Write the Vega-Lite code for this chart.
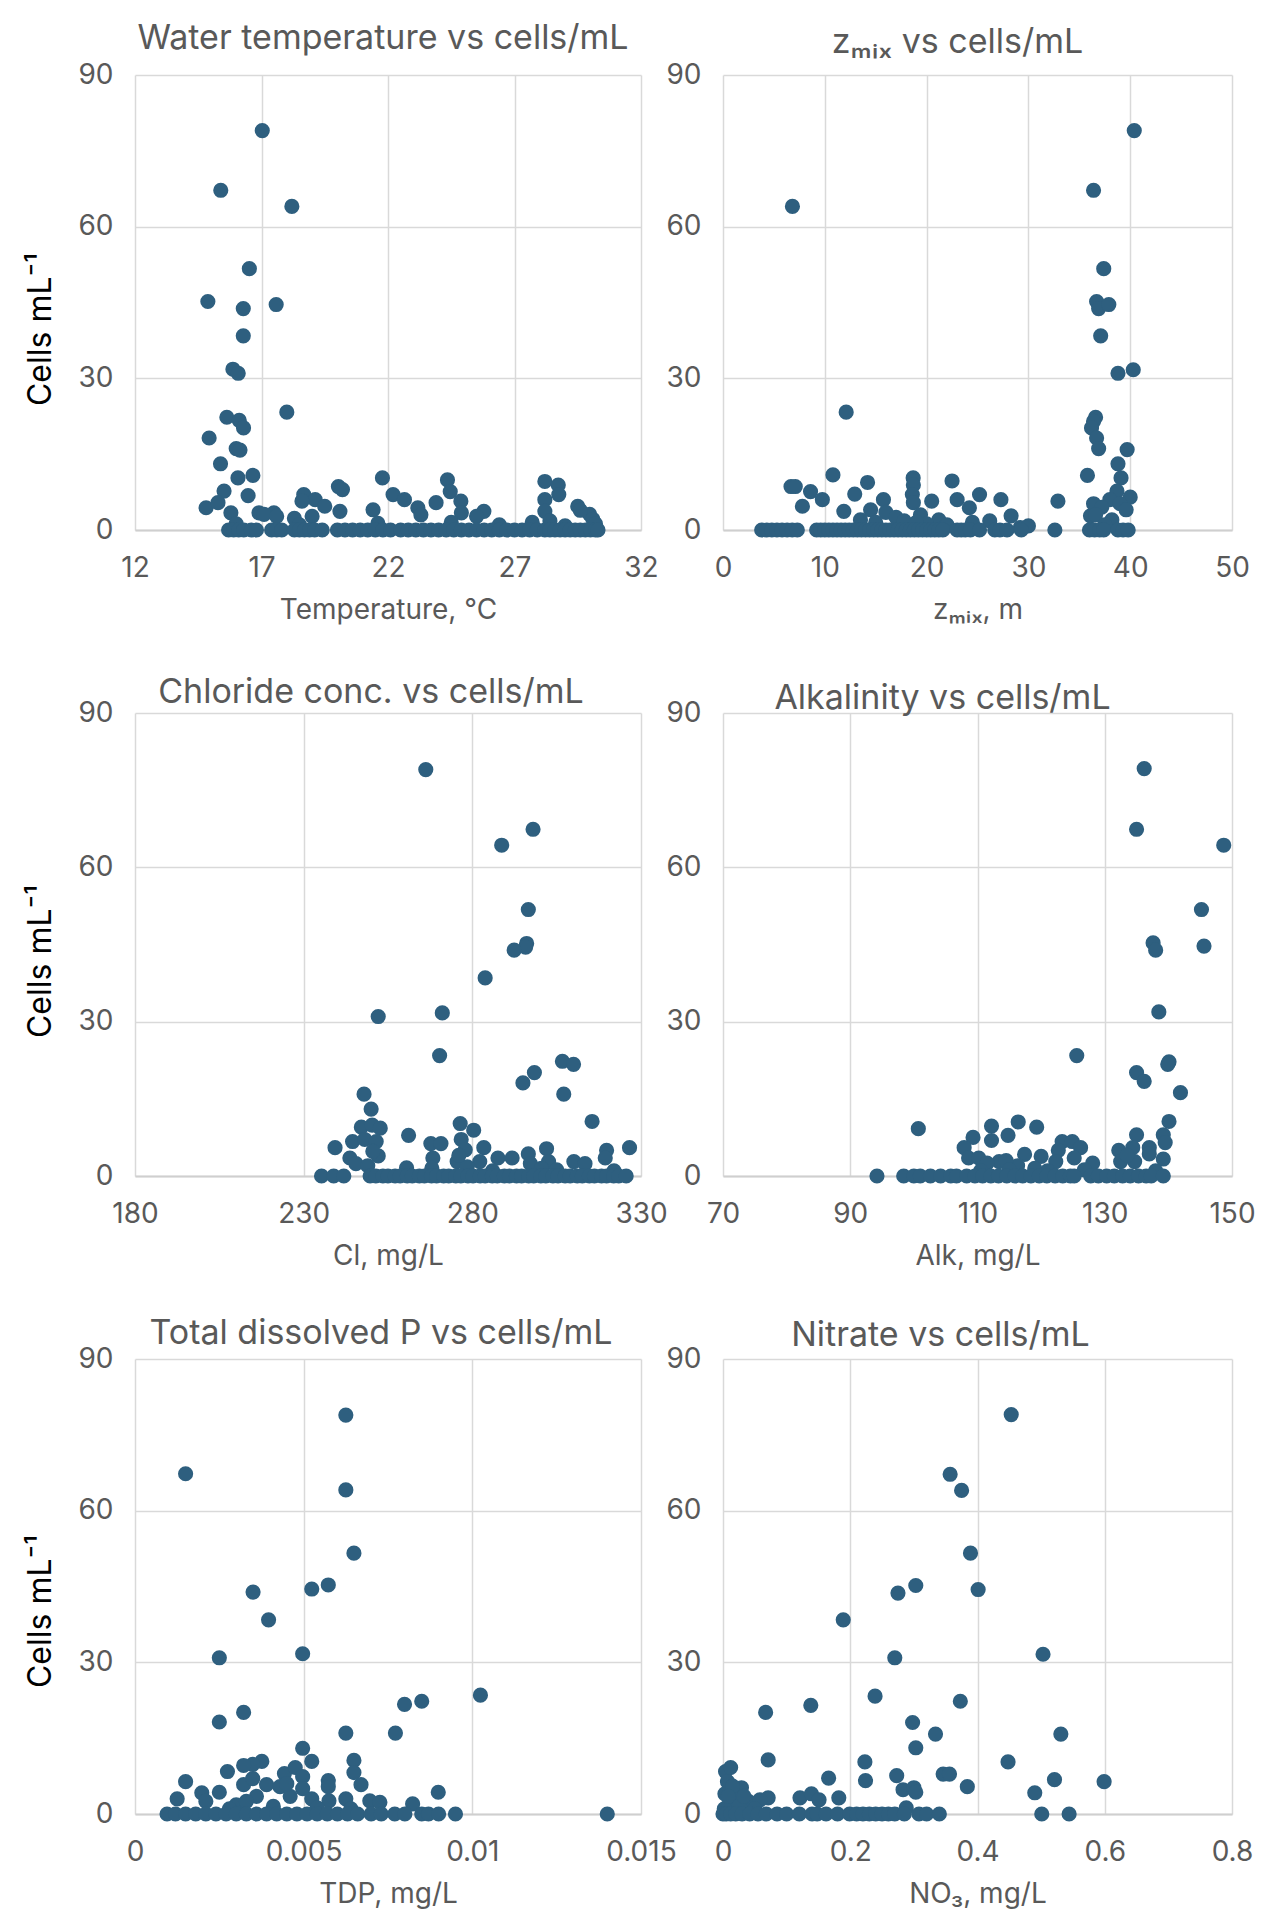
{
  "$schema": "https://vega.github.io/schema/vega-lite/v6.json",
  "background": "white",
  "padding": {"left": 24, "top": 22, "right": 10, "bottom": 10},
  "config": {
    "font": "Inter, DejaVu Sans, sans-serif",
    "view": {"stroke": null},
    "axis": {
      "grid": true,
      "gridColor": "#D9D9D9",
      "gridWidth": 1.5,
      "ticks": false,
      "domain": false,
      "labelFontSize": 28,
      "labelColor": "#595959",
      "labelOverlap": false,
      "labelFlush": false,
      "titleFontSize": 28,
      "titleFontWeight": "normal",
      "titleColor": "#595959"
    },
    "axisX": {"labelPadding": 24, "titlePadding": 14, "domain": true, "domainColor": "#CFCFCF", "domainWidth": 2},
    "axisY": {"labelPadding": 22, "titleColor": "black", "titleFontSize": 32, "titlePadding": 20},
    "title": {"fontSize": 34, "fontWeight": "normal", "color": "#595959", "anchor": "middle"},
    "circle": {"size": 230, "opacity": 1, "color": "#2E5F7F"}
  },
  "datasets": {
    "temperature": [
      {"value": 17.03, "cells": 79.0}, {"value": 15.39, "cells": 67.2}, {"value": 18.2, "cells": 64.0}, {"value": 16.52, "cells": 51.7},
      {"value": 14.88, "cells": 45.2}, {"value": 16.28, "cells": 43.8}, {"value": 17.58, "cells": 44.6}, {"value": 16.28, "cells": 38.4},
      {"value": 15.87, "cells": 31.8}, {"value": 16.08, "cells": 31.0}, {"value": 18.0, "cells": 23.3}, {"value": 15.63, "cells": 22.3},
      {"value": 16.12, "cells": 21.7}, {"value": 16.29, "cells": 20.2}, {"value": 14.93, "cells": 18.2}, {"value": 16.0, "cells": 16.1},
      {"value": 16.15, "cells": 15.8}, {"value": 15.38, "cells": 13.1}, {"value": 16.07, "cells": 10.3}, {"value": 16.66, "cells": 10.8},
      {"value": 15.52, "cells": 7.7}, {"value": 16.47, "cells": 6.8}, {"value": 14.81, "cells": 4.4}, {"value": 15.28, "cells": 5.4},
      {"value": 15.79, "cells": 3.4}, {"value": 16.9, "cells": 3.4}, {"value": 17.49, "cells": 3.4}, {"value": 18.67, "cells": 7.0},
      {"value": 19.12, "cells": 6.0}, {"value": 19.5, "cells": 4.7}, {"value": 18.6, "cells": 5.7}, {"value": 20.04, "cells": 8.6},
      {"value": 20.2, "cells": 8.0}, {"value": 20.1, "cells": 3.7}, {"value": 21.41, "cells": 4.0}, {"value": 21.78, "cells": 10.3},
      {"value": 22.2, "cells": 7.0}, {"value": 22.65, "cells": 6.0}, {"value": 23.18, "cells": 4.4}, {"value": 23.9, "cells": 5.4},
      {"value": 24.35, "cells": 9.9}, {"value": 24.46, "cells": 7.6}, {"value": 24.88, "cells": 5.7}, {"value": 24.9, "cells": 3.4},
      {"value": 25.79, "cells": 3.7}, {"value": 28.2, "cells": 9.6}, {"value": 28.73, "cells": 8.9}, {"value": 28.75, "cells": 7.0},
      {"value": 28.2, "cells": 6.0}, {"value": 28.2, "cells": 3.7}, {"value": 29.5, "cells": 4.7}, {"value": 29.97, "cells": 3.1},
      {"value": 30.1, "cells": 2.1}, {"value": 25.5, "cells": 2.7}, {"value": 27.7, "cells": 1.5}, {"value": 18.3, "cells": 2.3},
      {"value": 19.0, "cells": 2.7}, {"value": 17.1, "cells": 3.1}, {"value": 17.6, "cells": 2.7}, {"value": 23.3, "cells": 3.0},
      {"value": 29.6, "cells": 3.9}, {"value": 30.2, "cells": 1.2}, {"value": 28.4, "cells": 1.8}, {"value": 16.0, "cells": 1.2},
      {"value": 18.5, "cells": 1.0}, {"value": 21.6, "cells": 1.3}, {"value": 24.5, "cells": 1.5}, {"value": 26.4, "cells": 1.0},
      {"value": 29.0, "cells": 0.8},
      {"value": 15.7, "cells": 0}, {"value": 15.9, "cells": 0}, {"value": 16.1, "cells": 0}, {"value": 16.3, "cells": 0},
      {"value": 16.6, "cells": 0}, {"value": 16.8, "cells": 0}, {"value": 17.4, "cells": 0}, {"value": 17.6, "cells": 0},
      {"value": 17.8, "cells": 0}, {"value": 18.3, "cells": 0}, {"value": 18.5, "cells": 0}, {"value": 18.7, "cells": 0},
      {"value": 18.9, "cells": 0}, {"value": 19.1, "cells": 0}, {"value": 19.4, "cells": 0}, {"value": 20.0, "cells": 0},
      {"value": 20.3, "cells": 0}, {"value": 20.6, "cells": 0}, {"value": 20.9, "cells": 0}, {"value": 21.2, "cells": 0},
      {"value": 21.5, "cells": 0}, {"value": 21.8, "cells": 0}, {"value": 22.1, "cells": 0}, {"value": 22.5, "cells": 0},
      {"value": 22.8, "cells": 0}, {"value": 23.1, "cells": 0}, {"value": 23.4, "cells": 0}, {"value": 23.7, "cells": 0},
      {"value": 24.0, "cells": 0}, {"value": 24.3, "cells": 0}, {"value": 24.6, "cells": 0}, {"value": 24.9, "cells": 0},
      {"value": 25.2, "cells": 0}, {"value": 25.5, "cells": 0}, {"value": 25.8, "cells": 0}, {"value": 26.1, "cells": 0},
      {"value": 26.4, "cells": 0}, {"value": 26.7, "cells": 0}, {"value": 27.0, "cells": 0}, {"value": 27.3, "cells": 0},
      {"value": 27.6, "cells": 0}, {"value": 27.9, "cells": 0}, {"value": 28.2, "cells": 0}, {"value": 28.4, "cells": 0},
      {"value": 28.6, "cells": 0}, {"value": 28.8, "cells": 0}, {"value": 29.0, "cells": 0}, {"value": 29.2, "cells": 0},
      {"value": 29.4, "cells": 0}, {"value": 29.6, "cells": 0}, {"value": 29.8, "cells": 0}, {"value": 30.0, "cells": 0},
      {"value": 30.2, "cells": 0}, {"value": 30.3, "cells": 0}
    ],
    "zmix": [
      {"value": 6.82, "cells": 64.0}, {"value": 40.4, "cells": 79.0}, {"value": 36.4, "cells": 67.2}, {"value": 37.4, "cells": 51.7},
      {"value": 36.7, "cells": 45.2}, {"value": 36.9, "cells": 43.8}, {"value": 37.9, "cells": 44.6}, {"value": 37.1, "cells": 38.4},
      {"value": 38.8, "cells": 31.0}, {"value": 40.3, "cells": 31.7}, {"value": 12.1, "cells": 23.3}, {"value": 36.6, "cells": 22.3},
      {"value": 36.4, "cells": 21.5}, {"value": 36.2, "cells": 20.2}, {"value": 36.7, "cells": 18.2}, {"value": 36.9, "cells": 16.1},
      {"value": 39.7, "cells": 15.9}, {"value": 38.8, "cells": 13.1}, {"value": 35.8, "cells": 10.8}, {"value": 39.1, "cells": 10.3},
      {"value": 38.7, "cells": 7.7}, {"value": 40.0, "cells": 6.5},
      {"value": 6.68, "cells": 8.6}, {"value": 7.1, "cells": 8.6}, {"value": 7.8, "cells": 4.7}, {"value": 8.6, "cells": 7.6},
      {"value": 9.76, "cells": 6.0}, {"value": 10.8, "cells": 10.9}, {"value": 11.87, "cells": 3.7}, {"value": 12.94, "cells": 7.1},
      {"value": 14.2, "cells": 9.4}, {"value": 15.76, "cells": 6.0}, {"value": 14.5, "cells": 4.0}, {"value": 18.68, "cells": 10.3},
      {"value": 18.7, "cells": 8.9}, {"value": 18.6, "cells": 7.0}, {"value": 18.7, "cells": 5.4}, {"value": 20.5, "cells": 5.7},
      {"value": 22.5, "cells": 9.7}, {"value": 23.0, "cells": 6.0}, {"value": 25.2, "cells": 7.0}, {"value": 24.2, "cells": 4.4},
      {"value": 27.3, "cells": 6.0}, {"value": 28.3, "cells": 2.8}, {"value": 29.2, "cells": 0.5}, {"value": 30.0, "cells": 0.8},
      {"value": 32.9, "cells": 5.7}, {"value": 38.0, "cells": 6.0}, {"value": 36.4, "cells": 5.2}, {"value": 36.1, "cells": 2.8},
      {"value": 39.0, "cells": 5.2}, {"value": 39.6, "cells": 4.0}, {"value": 37.2, "cells": 4.5}, {"value": 36.6, "cells": 3.0},
      {"value": 38.2, "cells": 2.0}, {"value": 37.5, "cells": 1.0}, {"value": 16.0, "cells": 3.5}, {"value": 17.0, "cells": 2.5},
      {"value": 19.4, "cells": 3.0}, {"value": 21.2, "cells": 2.0}, {"value": 13.5, "cells": 2.0}, {"value": 15.0, "cells": 1.5},
      {"value": 17.8, "cells": 1.8}, {"value": 20.0, "cells": 1.2}, {"value": 22.0, "cells": 1.0}, {"value": 24.5, "cells": 1.5},
      {"value": 26.2, "cells": 1.8}, {"value": 19.0, "cells": 1.5},
      {"value": 3.8, "cells": 0}, {"value": 4.3, "cells": 0}, {"value": 4.8, "cells": 0}, {"value": 5.3, "cells": 0},
      {"value": 5.8, "cells": 0}, {"value": 6.3, "cells": 0}, {"value": 6.8, "cells": 0}, {"value": 7.3, "cells": 0},
      {"value": 9.2, "cells": 0}, {"value": 9.6, "cells": 0}, {"value": 10.0, "cells": 0}, {"value": 10.4, "cells": 0},
      {"value": 10.8, "cells": 0}, {"value": 11.2, "cells": 0}, {"value": 11.6, "cells": 0}, {"value": 12.0, "cells": 0},
      {"value": 12.4, "cells": 0}, {"value": 12.8, "cells": 0}, {"value": 13.2, "cells": 0}, {"value": 13.6, "cells": 0},
      {"value": 14.0, "cells": 0}, {"value": 14.4, "cells": 0}, {"value": 14.8, "cells": 0}, {"value": 15.2, "cells": 0},
      {"value": 15.6, "cells": 0}, {"value": 16.0, "cells": 0}, {"value": 16.4, "cells": 0}, {"value": 16.8, "cells": 0},
      {"value": 17.2, "cells": 0}, {"value": 17.6, "cells": 0}, {"value": 18.0, "cells": 0}, {"value": 18.4, "cells": 0},
      {"value": 18.8, "cells": 0}, {"value": 19.2, "cells": 0}, {"value": 19.6, "cells": 0}, {"value": 20.0, "cells": 0},
      {"value": 20.4, "cells": 0}, {"value": 20.8, "cells": 0}, {"value": 21.2, "cells": 0}, {"value": 21.6, "cells": 0},
      {"value": 23.0, "cells": 0}, {"value": 23.4, "cells": 0}, {"value": 23.8, "cells": 0}, {"value": 24.3, "cells": 0},
      {"value": 25.2, "cells": 0}, {"value": 26.7, "cells": 0}, {"value": 27.2, "cells": 0}, {"value": 27.9, "cells": 0},
      {"value": 29.3, "cells": 0}, {"value": 32.6, "cells": 0}, {"value": 36.0, "cells": 0}, {"value": 36.5, "cells": 0},
      {"value": 37.0, "cells": 0}, {"value": 37.4, "cells": 0}, {"value": 38.8, "cells": 0}, {"value": 39.3, "cells": 0},
      {"value": 39.8, "cells": 0}
    ],
    "chloride": [
      {"value": 266.2, "cells": 79.0}, {"value": 298.0, "cells": 67.4}, {"value": 288.7, "cells": 64.3}, {"value": 296.6, "cells": 51.8},
      {"value": 296.1, "cells": 45.2}, {"value": 295.8, "cells": 44.5}, {"value": 292.4, "cells": 43.9}, {"value": 283.8, "cells": 38.5},
      {"value": 252.1, "cells": 31.0}, {"value": 271.1, "cells": 31.7}, {"value": 270.3, "cells": 23.4}, {"value": 306.7, "cells": 22.3},
      {"value": 310.0, "cells": 21.7}, {"value": 298.4, "cells": 20.1}, {"value": 295.0, "cells": 18.1}, {"value": 307.1, "cells": 15.9},
      {"value": 247.9, "cells": 15.9}, {"value": 250.0, "cells": 13.0}, {"value": 315.5, "cells": 10.6}, {"value": 276.4, "cells": 10.2},
      {"value": 280.4, "cells": 8.9}, {"value": 247.1, "cells": 9.5}, {"value": 250.3, "cells": 9.9}, {"value": 252.7, "cells": 9.3},
      {"value": 261.1, "cells": 7.9}, {"value": 244.5, "cells": 6.7}, {"value": 248.1, "cells": 7.1}, {"value": 251.5, "cells": 6.7},
      {"value": 267.7, "cells": 6.3}, {"value": 270.7, "cells": 6.3}, {"value": 276.7, "cells": 7.1}, {"value": 277.9, "cells": 5.1},
      {"value": 283.4, "cells": 5.5}, {"value": 302.0, "cells": 5.3}, {"value": 319.8, "cells": 5.0}, {"value": 326.6, "cells": 5.5},
      {"value": 239.3, "cells": 5.5}, {"value": 243.7, "cells": 3.5}, {"value": 245.5, "cells": 2.4}, {"value": 252.1, "cells": 3.9},
      {"value": 260.5, "cells": 1.6}, {"value": 268.3, "cells": 3.5}, {"value": 275.5, "cells": 2.8}, {"value": 287.6, "cells": 3.5},
      {"value": 291.8, "cells": 3.5}, {"value": 296.6, "cells": 4.3}, {"value": 297.2, "cells": 2.4}, {"value": 302.6, "cells": 2.8},
      {"value": 310.1, "cells": 2.8}, {"value": 313.4, "cells": 2.4}, {"value": 319.4, "cells": 3.5}, {"value": 282.2, "cells": 2.8},
      {"value": 250.5, "cells": 4.8}, {"value": 249.0, "cells": 2.0}, {"value": 268.0, "cells": 1.5}, {"value": 278.5, "cells": 1.8},
      {"value": 286.0, "cells": 1.0}, {"value": 305.0, "cells": 1.2}, {"value": 322.0, "cells": 1.0}, {"value": 276.0, "cells": 4.0},
      {"value": 300.5, "cells": 1.5},
      {"value": 235.3, "cells": 0}, {"value": 238.9, "cells": 0}, {"value": 241.9, "cells": 0}, {"value": 249.7, "cells": 0},
      {"value": 251.4, "cells": 0}, {"value": 253.5, "cells": 0}, {"value": 255.0, "cells": 0}, {"value": 257.1, "cells": 0},
      {"value": 258.6, "cells": 0}, {"value": 260.7, "cells": 0}, {"value": 262.2, "cells": 0}, {"value": 264.3, "cells": 0},
      {"value": 265.8, "cells": 0}, {"value": 267.9, "cells": 0}, {"value": 269.4, "cells": 0}, {"value": 271.5, "cells": 0},
      {"value": 273.0, "cells": 0}, {"value": 275.1, "cells": 0}, {"value": 276.6, "cells": 0}, {"value": 278.7, "cells": 0},
      {"value": 280.2, "cells": 0}, {"value": 282.3, "cells": 0}, {"value": 283.8, "cells": 0}, {"value": 285.9, "cells": 0},
      {"value": 287.4, "cells": 0}, {"value": 289.5, "cells": 0}, {"value": 291.0, "cells": 0}, {"value": 293.1, "cells": 0},
      {"value": 294.6, "cells": 0}, {"value": 296.7, "cells": 0}, {"value": 298.2, "cells": 0}, {"value": 300.3, "cells": 0},
      {"value": 301.8, "cells": 0}, {"value": 303.9, "cells": 0}, {"value": 305.4, "cells": 0}, {"value": 307.5, "cells": 0},
      {"value": 309.0, "cells": 0}, {"value": 311.1, "cells": 0}, {"value": 312.6, "cells": 0}, {"value": 314.7, "cells": 0},
      {"value": 316.2, "cells": 0}, {"value": 318.3, "cells": 0}, {"value": 319.8, "cells": 0}, {"value": 321.9, "cells": 0},
      {"value": 323.4, "cells": 0}, {"value": 325.6, "cells": 0}
    ],
    "alkalinity": [
      {"value": 136.2, "cells": 79.2}, {"value": 135.0, "cells": 67.4}, {"value": 148.7, "cells": 64.3}, {"value": 145.2, "cells": 51.8},
      {"value": 137.6, "cells": 45.3}, {"value": 138.0, "cells": 43.9}, {"value": 145.6, "cells": 44.7}, {"value": 138.5, "cells": 31.9},
      {"value": 125.6, "cells": 23.4}, {"value": 135.0, "cells": 20.1}, {"value": 136.2, "cells": 18.4}, {"value": 140.1, "cells": 22.2},
      {"value": 139.9, "cells": 21.7}, {"value": 141.9, "cells": 16.2}, {"value": 140.1, "cells": 10.6}, {"value": 139.2, "cells": 8.0},
      {"value": 139.5, "cells": 6.5}, {"value": 139.2, "cells": 3.3}, {"value": 135.0, "cells": 8.0}, {"value": 137.0, "cells": 5.5},
      {"value": 137.0, "cells": 4.3}, {"value": 132.2, "cells": 5.0}, {"value": 134.4, "cells": 5.5}, {"value": 132.5, "cells": 2.8},
      {"value": 134.7, "cells": 2.8}, {"value": 100.7, "cells": 9.2}, {"value": 94.2, "cells": 0}, {"value": 112.2, "cells": 9.7},
      {"value": 116.4, "cells": 10.5}, {"value": 119.3, "cells": 9.5}, {"value": 114.8, "cells": 7.9}, {"value": 112.2, "cells": 6.9},
      {"value": 109.3, "cells": 7.5}, {"value": 107.9, "cells": 5.5}, {"value": 108.6, "cells": 3.5}, {"value": 110.2, "cells": 3.5},
      {"value": 113.4, "cells": 2.8}, {"value": 117.4, "cells": 4.2}, {"value": 120.0, "cells": 3.8}, {"value": 123.3, "cells": 6.7},
      {"value": 124.9, "cells": 6.7}, {"value": 126.2, "cells": 5.5}, {"value": 122.7, "cells": 5.0}, {"value": 128.1, "cells": 2.5},
      {"value": 125.2, "cells": 3.5}, {"value": 122.3, "cells": 2.8}, {"value": 116.3, "cells": 2.0}, {"value": 111.5, "cells": 2.5},
      {"value": 114.5, "cells": 3.0}, {"value": 119.0, "cells": 1.5}, {"value": 121.0, "cells": 1.0}, {"value": 126.8, "cells": 1.2},
      {"value": 138.0, "cells": 1.0}, {"value": 133.5, "cells": 4.0}, {"value": 115.0, "cells": 1.2}, {"value": 110.5, "cells": 1.0},
      {"value": 98.4, "cells": 0}, {"value": 100.0, "cells": 0}, {"value": 101.0, "cells": 0}, {"value": 102.6, "cells": 0},
      {"value": 104.2, "cells": 0}, {"value": 105.8, "cells": 0}, {"value": 106.7, "cells": 0}, {"value": 108.3, "cells": 0},
      {"value": 109.6, "cells": 0}, {"value": 110.8, "cells": 0}, {"value": 112.1, "cells": 0}, {"value": 113.3, "cells": 0},
      {"value": 114.6, "cells": 0}, {"value": 115.9, "cells": 0}, {"value": 117.1, "cells": 0}, {"value": 118.4, "cells": 0},
      {"value": 119.7, "cells": 0}, {"value": 120.9, "cells": 0}, {"value": 122.2, "cells": 0}, {"value": 123.4, "cells": 0},
      {"value": 124.6, "cells": 0}, {"value": 125.2, "cells": 0}, {"value": 127.8, "cells": 0}, {"value": 129.0, "cells": 0},
      {"value": 130.3, "cells": 0}, {"value": 131.5, "cells": 0}, {"value": 132.8, "cells": 0}, {"value": 134.0, "cells": 0},
      {"value": 135.3, "cells": 0}, {"value": 136.5, "cells": 0}, {"value": 137.3, "cells": 0}, {"value": 139.2, "cells": 0}
    ],
    "tdp": [
      {"value": 0.00625, "cells": 78.9}, {"value": 0.0015, "cells": 67.3}, {"value": 0.00625, "cells": 64.1}, {"value": 0.00649, "cells": 51.6},
      {"value": 0.00573, "cells": 45.3}, {"value": 0.00524, "cells": 44.5}, {"value": 0.0035, "cells": 43.9}, {"value": 0.00396, "cells": 38.4},
      {"value": 0.0025, "cells": 30.9}, {"value": 0.00497, "cells": 31.7}, {"value": 0.01024, "cells": 23.5}, {"value": 0.00799, "cells": 21.7},
      {"value": 0.0085, "cells": 22.3}, {"value": 0.00322, "cells": 20.1}, {"value": 0.0025, "cells": 18.2}, {"value": 0.00625, "cells": 16.0},
      {"value": 0.00772, "cells": 16.0}, {"value": 0.00497, "cells": 13.0}, {"value": 0.00524, "cells": 10.4}, {"value": 0.00649, "cells": 10.6},
      {"value": 0.00376, "cells": 10.4}, {"value": 0.00349, "cells": 9.8}, {"value": 0.00322, "cells": 9.6}, {"value": 0.00274, "cells": 8.4},
      {"value": 0.0015, "cells": 6.4}, {"value": 0.00125, "cells": 3.0}, {"value": 0.00198, "cells": 4.2}, {"value": 0.0025, "cells": 4.3},
      {"value": 0.00322, "cells": 5.8}, {"value": 0.00349, "cells": 7.0}, {"value": 0.00443, "cells": 8.0}, {"value": 0.00475, "cells": 9.2},
      {"value": 0.00497, "cells": 7.4}, {"value": 0.00497, "cells": 5.0}, {"value": 0.00573, "cells": 6.6}, {"value": 0.00573, "cells": 5.4},
      {"value": 0.00649, "cells": 8.2}, {"value": 0.0067, "cells": 5.8}, {"value": 0.00524, "cells": 3.0}, {"value": 0.00575, "cells": 2.6},
      {"value": 0.00625, "cells": 3.0}, {"value": 0.00696, "cells": 2.6}, {"value": 0.00726, "cells": 2.3}, {"value": 0.00823, "cells": 2.0},
      {"value": 0.00899, "cells": 4.3}, {"value": 0.014, "cells": 0}, {"value": 0.0039, "cells": 5.8}, {"value": 0.0043, "cells": 5.4},
      {"value": 0.0046, "cells": 3.5}, {"value": 0.003, "cells": 1.8}, {"value": 0.0036, "cells": 3.5}, {"value": 0.0021, "cells": 2.5},
      {"value": 0.0041, "cells": 1.5}, {"value": 0.0054, "cells": 1.2}, {"value": 0.0064, "cells": 1.0}, {"value": 0.0028, "cells": 1.0},
      {"value": 0.0045, "cells": 6.0}, {"value": 0.0033, "cells": 2.5},
      {"value": 0.00095, "cells": 0}, {"value": 0.0012, "cells": 0}, {"value": 0.0015, "cells": 0}, {"value": 0.0018, "cells": 0},
      {"value": 0.0021, "cells": 0}, {"value": 0.0024, "cells": 0}, {"value": 0.0027, "cells": 0}, {"value": 0.003, "cells": 0},
      {"value": 0.0033, "cells": 0}, {"value": 0.0036, "cells": 0}, {"value": 0.0039, "cells": 0}, {"value": 0.0042, "cells": 0},
      {"value": 0.0045, "cells": 0}, {"value": 0.0048, "cells": 0}, {"value": 0.0051, "cells": 0}, {"value": 0.0054, "cells": 0},
      {"value": 0.0057, "cells": 0}, {"value": 0.006, "cells": 0}, {"value": 0.0063, "cells": 0}, {"value": 0.0066, "cells": 0},
      {"value": 0.007, "cells": 0}, {"value": 0.0073, "cells": 0}, {"value": 0.0077, "cells": 0}, {"value": 0.008, "cells": 0},
      {"value": 0.0085, "cells": 0}, {"value": 0.0087, "cells": 0}, {"value": 0.009, "cells": 0}, {"value": 0.0095, "cells": 0}
    ],
    "nitrate": [
      {"value": 0.453, "cells": 79.0}, {"value": 0.357, "cells": 67.2}, {"value": 0.375, "cells": 64.0}, {"value": 0.389, "cells": 51.6},
      {"value": 0.303, "cells": 45.2}, {"value": 0.275, "cells": 43.7}, {"value": 0.401, "cells": 44.4}, {"value": 0.189, "cells": 38.4},
      {"value": 0.27, "cells": 30.9}, {"value": 0.503, "cells": 31.6}, {"value": 0.239, "cells": 23.3}, {"value": 0.138, "cells": 21.5},
      {"value": 0.373, "cells": 22.3}, {"value": 0.067, "cells": 20.1}, {"value": 0.298, "cells": 18.1}, {"value": 0.334, "cells": 15.8},
      {"value": 0.531, "cells": 15.8}, {"value": 0.303, "cells": 13.1}, {"value": 0.071, "cells": 10.7}, {"value": 0.223, "cells": 10.3},
      {"value": 0.448, "cells": 10.3}, {"value": 0.166, "cells": 7.1}, {"value": 0.273, "cells": 7.6}, {"value": 0.346, "cells": 7.9},
      {"value": 0.356, "cells": 7.9}, {"value": 0.521, "cells": 6.8}, {"value": 0.599, "cells": 6.4}, {"value": 0.224, "cells": 6.6},
      {"value": 0.283, "cells": 4.8}, {"value": 0.3, "cells": 5.2}, {"value": 0.303, "cells": 4.3}, {"value": 0.384, "cells": 5.4},
      {"value": 0.49, "cells": 4.2}, {"value": 0.182, "cells": 3.2}, {"value": 0.121, "cells": 3.2}, {"value": 0.139, "cells": 4.0},
      {"value": 0.151, "cells": 2.8}, {"value": 0.071, "cells": 3.2}, {"value": 0.029, "cells": 5.2}, {"value": 0.004, "cells": 8.4},
      {"value": 0.012, "cells": 9.2}, {"value": 0.007, "cells": 6.4}, {"value": 0.003, "cells": 4.0}, {"value": 0.02, "cells": 3.0},
      {"value": 0.04, "cells": 2.5}, {"value": 0.058, "cells": 2.8}, {"value": 0.288, "cells": 1.2}, {"value": 0.01, "cells": 2.0},
      {"value": 0.015, "cells": 5.5}, {"value": 0.025, "cells": 1.5}, {"value": 0.002, "cells": 1.0}, {"value": 0.05, "cells": 1.0},
      {"value": 0.008, "cells": 3.5}, {"value": 0.033, "cells": 3.5},
      {"value": 0.0, "cells": 0}, {"value": 0.005, "cells": 0}, {"value": 0.012, "cells": 0}, {"value": 0.02, "cells": 0},
      {"value": 0.03, "cells": 0}, {"value": 0.042, "cells": 0}, {"value": 0.055, "cells": 0}, {"value": 0.068, "cells": 0},
      {"value": 0.085, "cells": 0}, {"value": 0.1, "cells": 0}, {"value": 0.12, "cells": 0}, {"value": 0.14, "cells": 0},
      {"value": 0.148, "cells": 0}, {"value": 0.162, "cells": 0}, {"value": 0.18, "cells": 0}, {"value": 0.199, "cells": 0},
      {"value": 0.21, "cells": 0}, {"value": 0.22, "cells": 0}, {"value": 0.23, "cells": 0}, {"value": 0.24, "cells": 0},
      {"value": 0.25, "cells": 0}, {"value": 0.26, "cells": 0}, {"value": 0.27, "cells": 0}, {"value": 0.285, "cells": 0},
      {"value": 0.308, "cells": 0}, {"value": 0.32, "cells": 0}, {"value": 0.34, "cells": 0}, {"value": 0.501, "cells": 0},
      {"value": 0.544, "cells": 0}
    ]
  },
  "columns": 2,
  "bounds": "flush",
  "align": "each",
  "spacing": {"row": 183, "column": 82},
  "concat": [
    {
      "title": {"text": "Water temperature vs cells/mL", "offset": 5, "dx": -5},
      "width": 506, "height": 455,
      "data": {"name": "temperature"},
      "mark": "circle",
      "encoding": {
        "x": {"field": "value", "type": "quantitative", "scale": {"domain": [12, 32], "nice": false, "zero": false},
              "axis": {"values": [12, 17, 22, 27, 32], "title": "Temperature, °C"}},
        "y": {"field": "cells", "type": "quantitative", "scale": {"domain": [0, 90], "nice": false},
              "axis": {"values": [0, 30, 60, 90], "title": "Cells mL⁻¹", "titleY": 254}}
      }
    },
    {
      "title": {"text": "zₘᵢₓ vs cells/mL", "offset": 1, "dx": -20},
      "width": 509, "height": 455,
      "data": {"name": "zmix"},
      "mark": "circle",
      "encoding": {
        "x": {"field": "value", "type": "quantitative", "scale": {"domain": [0, 50], "nice": false},
              "axis": {"values": [0, 10, 20, 30, 40, 50], "title": "zₘᵢₓ, m"}},
        "y": {"field": "cells", "type": "quantitative", "scale": {"domain": [0, 90], "nice": false},
              "axis": {"values": [0, 30, 60, 90], "title": null}}
      }
    },
    {
      "title": {"text": "Chloride conc. vs cells/mL", "offset": -11, "dx": -17},
      "width": 506, "height": 463,
      "data": {"name": "chloride"},
      "mark": "circle",
      "encoding": {
        "x": {"field": "value", "type": "quantitative", "scale": {"domain": [180, 330], "nice": false, "zero": false},
              "axis": {"values": [180, 230, 280, 330], "title": "Cl, mg/L"}},
        "y": {"field": "cells", "type": "quantitative", "scale": {"domain": [0, 90], "nice": false},
              "axis": {"values": [0, 30, 60, 90], "title": "Cells mL⁻¹", "titleY": 248}}
      }
    },
    {
      "title": {"text": "Alkalinity vs cells/mL", "offset": -17, "dx": -35},
      "width": 509, "height": 463,
      "data": {"name": "alkalinity"},
      "mark": "circle",
      "encoding": {
        "x": {"field": "value", "type": "quantitative", "scale": {"domain": [70, 150], "nice": false, "zero": false},
              "axis": {"values": [70, 90, 110, 130, 150], "title": "Alk, mg/L"}},
        "y": {"field": "cells", "type": "quantitative", "scale": {"domain": [0, 90], "nice": false},
              "axis": {"values": [0, 30, 60, 90], "title": null}}
      }
    },
    {
      "title": {"text": "Total dissolved P vs cells/mL", "offset": -6, "dx": -7},
      "width": 506, "height": 455,
      "data": {"name": "tdp"},
      "mark": "circle",
      "encoding": {
        "x": {"field": "value", "type": "quantitative", "scale": {"domain": [0, 0.015], "nice": false},
              "axis": {"values": [0, 0.005, 0.01, 0.015], "format": ".3~f", "title": "TDP, mg/L"}},
        "y": {"field": "cells", "type": "quantitative", "scale": {"domain": [0, 90], "nice": false},
              "axis": {"values": [0, 30, 60, 90], "title": "Cells mL⁻¹", "titleY": 252}}
      }
    },
    {
      "title": {"text": "Nitrate vs cells/mL", "offset": -8, "dx": -37},
      "width": 509, "height": 455,
      "data": {"name": "nitrate"},
      "mark": "circle",
      "encoding": {
        "x": {"field": "value", "type": "quantitative", "scale": {"domain": [0, 0.8], "nice": false},
              "axis": {"values": [0, 0.2, 0.4, 0.6, 0.8], "format": ".1~f", "title": "NO₃, mg/L"}},
        "y": {"field": "cells", "type": "quantitative", "scale": {"domain": [0, 90], "nice": false},
              "axis": {"values": [0, 30, 60, 90], "title": null}}
      }
    }
  ]
}
